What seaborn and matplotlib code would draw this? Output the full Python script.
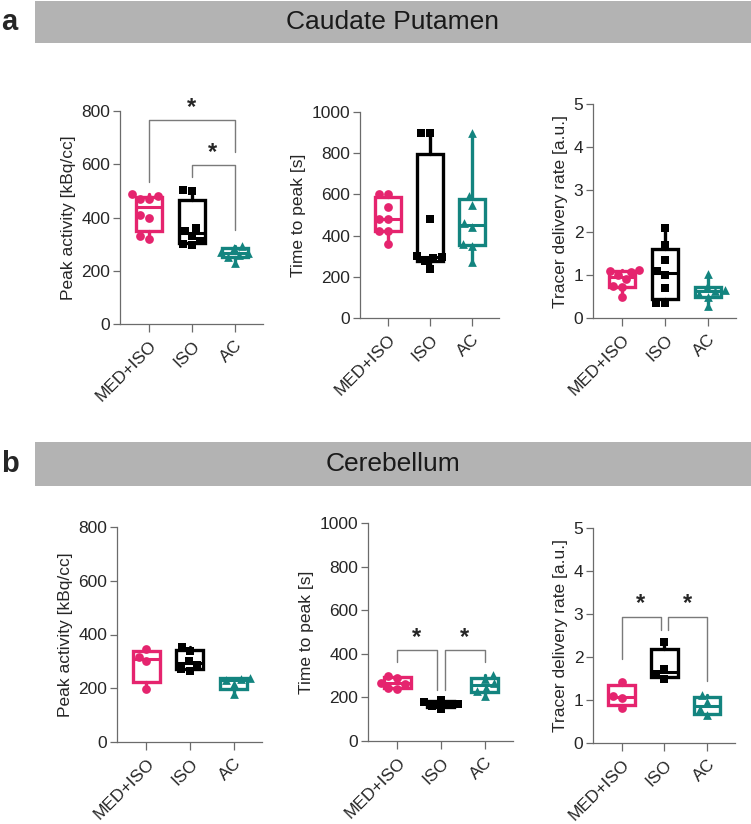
import numpy as np
import matplotlib
matplotlib.use('Agg')
import matplotlib.pyplot as plt
from matplotlib.patches import Rectangle
import seaborn as sns

groups = ['MED+ISO', 'ISO', 'AC']
colors = ['#e5246e', '#000000', '#13847f']
markers = ['o', 's', '^']

# caudate putamen (panel a)
cp_peak = [[318, 330, 400, 410, 470, 470, 480, 490],
           [295, 300, 310, 330, 350, 360, 500, 505],
           [228, 250, 258, 265, 272, 285, 292]]
cp_ttp = [[360, 420, 420, 480, 480, 540, 600, 600],
          [240, 275, 290, 295, 300, 480, 900, 900],
          [270, 350, 360, 440, 460, 550, 590, 900]]
cp_rate = [[0.50, 0.72, 0.75, 0.90, 1.00, 1.08, 1.10, 1.12],
           [0.35, 0.35, 0.70, 1.00, 1.10, 1.35, 1.70, 2.10],
           [0.28, 0.50, 0.55, 0.62, 0.65, 0.72, 1.02]]

# cerebellum (panel b)
cb_peak = [[198, 300, 318, 345],
           [265, 272, 285, 300, 340, 355],
           [180, 215, 232, 235, 238]]
cb_ttp = [[240, 245, 262, 268, 290, 300],
          [145, 160, 165, 172, 180, 188],
          [205, 230, 245, 265, 285, 305]]
cb_rate = [[0.82, 1.05, 1.10, 1.43],
           [1.50, 1.60, 1.72, 2.35],
           [0.65, 0.78, 0.95, 1.12]]

ylabels = ['Peak activity [kBq/cc]', 'Time to peak [s]', 'Tracer delivery rate [a.u.]']
ymax = [800, 1000, 5]
ystep = [200, 200, 1]

sns.set_style('ticks')
plt.rcParams['font.family'] = ['Liberation Sans', 'DejaVu Sans']

W, H = 751, 824
fig = plt.figure(figsize=(W / 100, H / 100), dpi=100)
axcol = '#6b6b6b'


def px_axes(left, top, right, bottom):
    return fig.add_axes([left / W, 1 - bottom / H, (right - left) / W, (bottom - top) / H])


def panel(ax, data, i):
    for g, vals in enumerate(data):
        sns.swarmplot(x=[groups[g]] * len(vals), y=vals, order=groups, color=colors[g],
                      marker=markers[g], size=6.3, linewidth=0, ax=ax, zorder=4)
    stats = []
    for vals in data:
        v = np.asarray(vals, float)
        q1, med, q3 = np.percentile(v, [25, 50, 75], method='weibull')
        stats.append(dict(med=med, q1=q1, q3=q3, whislo=v.min(), whishi=v.max(), fliers=[]))
    bp = ax.bxp(stats, positions=[0, 1, 2], widths=0.62, showcaps=False, showfliers=False,
                patch_artist=True, manage_ticks=False)
    for g in range(3):
        bp['boxes'][g].set(facecolor='white', edgecolor=colors[g], linewidth=2.4, zorder=2)
        bp['medians'][g].set(color=colors[g], linewidth=2.2, zorder=3)
        for w in bp['whiskers'][2 * g:2 * g + 2]:
            w.set(color=colors[g], linewidth=2.4, zorder=2)
    ax.set_xlim(-0.67, 2.65)
    ax.set_ylim(0, ymax[i])
    ax.set_yticks(np.arange(0, ymax[i] + ystep[i] / 2, ystep[i]))
    ax.set_xticks([0, 1, 2])
    ax.set_xticklabels(groups, rotation=45, ha='right', rotation_mode='anchor', fontsize=12.5)
    ax.tick_params(axis='y', labelsize=12.5, length=5, width=0.9, color=axcol, pad=2)
    ax.tick_params(axis='x', length=6, width=0.9, color=axcol, pad=4)
    ax.set_ylabel(ylabels[i], fontsize=12.5, labelpad=4)
    ax.set_xlabel('')
    for s in ['left', 'bottom']:
        ax.spines[s].set_color(axcol)
        ax.spines[s].set_linewidth(0.9)
    sns.despine(ax=ax)
    ax.patch.set_alpha(0)


def bracket(ax, x0, x1, top, y0, y1):
    ax.plot([x0, x0, x1, x1], [y0, top, top, y1], color='#7a7a7a', lw=1, clip_on=False, zorder=1)


def star(ax, x, y):
    ax.text(x, y, '*', ha='center', va='center', fontsize=17, fontweight='bold', clip_on=False)


rects_a = [(120, 111, 263, 324), (360, 112, 499, 318), (593, 104, 736, 318)]
rects_b = [(117, 527, 262, 742), (368, 523, 513, 741), (593, 528, 735, 743)]
axes_a = [px_axes(*r) for r in rects_a]
axes_b = [px_axes(*r) for r in rects_b]

for i, (ax, d) in enumerate(zip(axes_a, [cp_peak, cp_ttp, cp_rate])):
    panel(ax, d, i)
for i, (ax, d) in enumerate(zip(axes_b, [cb_peak, cb_ttp, cb_rate])):
    panel(ax, d, i)

# significance marks
bracket(axes_a[0], 0, 2, 767, 534, 646)
bracket(axes_a[0], 1, 2, 599, 552, 352)
star(axes_a[0], 1, 812)
star(axes_a[0], 1.48, 645)

bracket(axes_b[1], 0, 0.9, 419, 362, 232)
bracket(axes_b[1], 1.1, 2, 419, 232, 362)
star(axes_b[1], 0.45, 475)
star(axes_b[1], 1.55, 475)

bracket(axes_b[2], 0, 0.92, 2.94, 1.95, 2.63)
bracket(axes_b[2], 1.08, 2, 2.94, 2.63, 1.45)
star(axes_b[2], 0.45, 3.24)
star(axes_b[2], 1.55, 3.24)

# section header bands
for top, bottom, title, lab in [(1, 43, 'Caudate Putamen', 'a'), (442, 486, 'Cerebellum', 'b')]:
    fig.add_artist(Rectangle((35 / W, 1 - bottom / H), (W - 35) / W, (bottom - top) / H,
                             transform=fig.transFigure, facecolor='#b3b3b3', edgecolor='none'))
    fig.text((35 + W) / 2 / W, 1 - (top + bottom) / 2 / H, title, ha='center', va='center',
             fontsize=19, color='#1a1a1a')
    fig.text(1 / W, 1 - (top + bottom) / 2 / H, lab, ha='left', va='center',
             fontsize=21, fontweight='bold')

fig.savefig('out.png', dpi=100)
